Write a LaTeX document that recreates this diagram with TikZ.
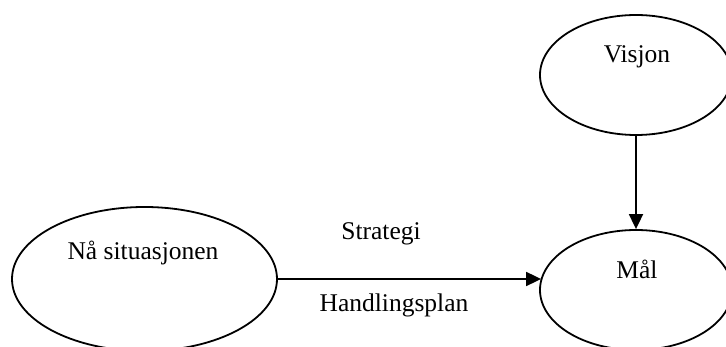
\documentclass[tikz,border=0pt]{standalone}
\usepackage{fontspec}
\setmainfont{Liberation Serif}
\usetikzlibrary{shapes.geometric,arrows.meta}
\begin{document}
\begin{tikzpicture}[x=1pt,y=-1pt,
  oval/.style={draw,ellipse,line width=1.8pt,inner sep=0pt},
  lbl/.style={anchor=base,inner sep=0pt,font=\fontsize{25.5}{30}\selectfont},
  link/.style={line width=1.8pt,-{Triangle[length=15pt,width=14pt]}}]
  \useasboundingbox (0,0) rectangle (726,347);
  % the three ovals
  \node[oval,minimum width=265pt,minimum height=144pt] (naa) at (144.5,279) {};
  \node[oval,minimum width=192pt,minimum height=120pt] (visjon) at (636,75) {};
  \node[oval,minimum width=192pt,minimum height=120pt] (maal) at (636,290) {};
  % texts inside the ovals
  \node[lbl] (tnaa) at (143,260) {Nå situasjonen};
  \node[lbl] (tvisjon) at (637,63) {Visjon};
  \node[lbl] (tmaal) at (637,279) {Mål};
  % labels along the horizontal arrow
  \node[lbl] (tstrategi) at (381,240) {Strategi};
  \node[lbl] (thandling) at (394,312) {Handlingsplan};
  % connectors
  \draw[link] (naa.east) -- ([xshift=2pt]maal.west |- naa.east);
  \draw[link] (visjon.south) -- (maal.north);
\end{tikzpicture}
\end{document}
